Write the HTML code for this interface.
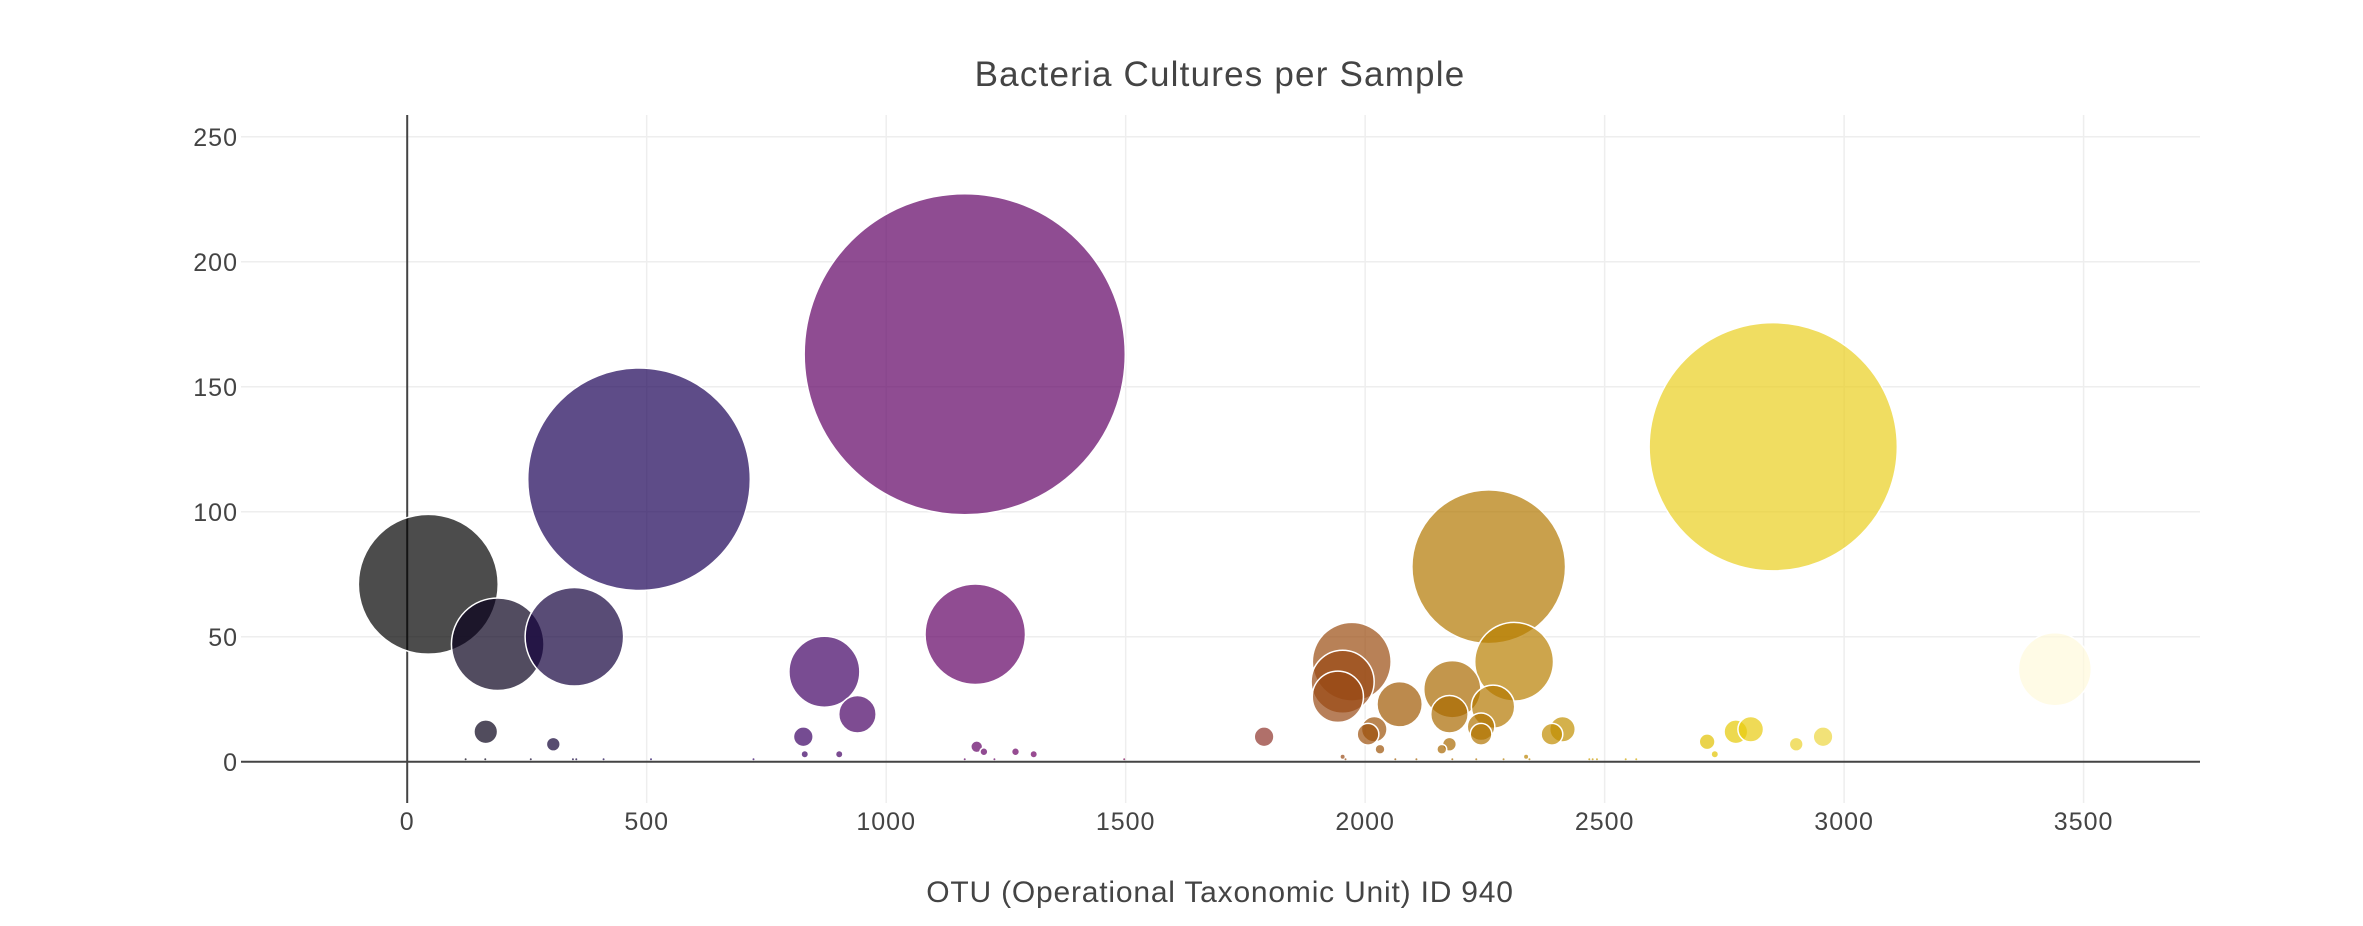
<!DOCTYPE html>
<html><head><meta charset="utf-8"><style>
html,body{margin:0;padding:0;background:#fff;width:2363px;height:926px;overflow:hidden}
svg text{font-family:"Liberation Sans",sans-serif;fill:#444}
</style></head><body>
<svg id="chart" width="2363" height="926" xmlns="http://www.w3.org/2000/svg">
<text x="1220" y="86" font-size="35" letter-spacing="1.2" text-anchor="middle">Bacteria Cultures per Sample</text>
<g id="grid"></g>
<g id="marks"></g>
<g id="axes"></g>
<text x="1220" y="902" font-size="30" letter-spacing="0.8" text-anchor="middle">OTU (Operational Taxonomic Unit) ID 940</text>
</svg>
<script>
const otuIds = [44,189,349,484,1164,1186,871,940,164,305,827,1189,1204,1270,1308,830,902,1789,1972,1953,1943,2072,2019,2006,2031,2258,2311,2182,2176,2267,2242,2242,2176,2160,2412,2390,2852,3440,2714,2730,2774,2805,2900,2956,122,163,258,346,353,410,509,723,1164,1226,1497,1953,1959,2063,2107,2182,2232,2289,2336,2343,2468,2475,2484,2544,2566];
const sampleValues = [71,47,50,113,163,51,36,19,12,7,10,6,4,4,3,3,3,10,40,32,26,23,13,11,5,78,40,29,19,22,14,11,7,5,13,11,126,37,8,3,12,13,7,10,1,1,1,1,1,1,1,1,1,1,1,2,1,1,1,1,1,1,2,1,1,1,1,1,1];
const xTicks = [0,500,1000,1500,2000,2500,3000,3500];
const yTicks = [0,50,100,150,200,250];

const PL=241, PR=2200, PT=115, PB=803;
const xMin=-347, xMax=3743, yMin=-16.5, yMax=258.7;
function xs(v){return PL+(v-xMin)/(xMax-xMin)*(PR-PL);}
function ys(v){return PB-(v-yMin)/(yMax-yMin)*(PB-PT);}
const NS="http://www.w3.org/2000/svg";
const scale=[[0,[0,0,0]],[0.15,[30,0,100]],[0.4,[120,0,100]],[0.6,[160,90,0]],[0.8,[230,200,0]],[1,[255,250,220]]];
const cmin=Math.min(...otuIds), cmax=Math.max(...otuIds);
function color(v){
  let t=(v-cmin)/(cmax-cmin);
  for(let i=1;i<scale.length;i++){
    if(t<=scale[i][0]){
      const a=scale[i-1],b=scale[i],f=(t-a[0])/(b[0]-a[0]);
      const c=a[1].map((x,k)=>Math.round(x+(b[1][k]-x)*f));
      return `rgb(${c.join(',')})`;
    }
  }
  return 'rgb(255,250,220)';
}
const grid=document.getElementById('grid'), axes=document.getElementById('axes'), marks=document.getElementById('marks');
xTicks.forEach(t=>{
  if(t!==0){
    const l=document.createElementNS(NS,'line');
    l.setAttribute('x1',xs(t));l.setAttribute('x2',xs(t));l.setAttribute('y1',PT);l.setAttribute('y2',PB);
    l.setAttribute('stroke','#eee');l.setAttribute('stroke-width','1.5');
    
    
    grid.appendChild(l);
  }
  const tx=document.createElementNS(NS,'text');
  tx.setAttribute('x',xs(t));tx.setAttribute('y',830);tx.setAttribute('font-size','25');tx.setAttribute('letter-spacing','1');tx.setAttribute('text-anchor','middle');
  tx.textContent=t;
  
  
  axes.appendChild(tx);
});
yTicks.forEach(t=>{
  if(t!==0){
    const l=document.createElementNS(NS,'line');
    l.setAttribute('x1',PL);l.setAttribute('x2',PR);l.setAttribute('y1',ys(t));l.setAttribute('y2',ys(t));
    l.setAttribute('stroke','#eee');l.setAttribute('stroke-width','1.5');
    
    
    grid.appendChild(l);
  }
  const tx=document.createElementNS(NS,'text');
  tx.setAttribute('x',238);tx.setAttribute('y',ys(t)+9);tx.setAttribute('font-size','25');tx.setAttribute('letter-spacing','1');tx.setAttribute('text-anchor','end');
  tx.textContent=t;
  
  
  axes.appendChild(tx);
});
const zx=document.createElementNS(NS,'line');
zx.setAttribute('x1',xs(0));zx.setAttribute('x2',xs(0));zx.setAttribute('y1',PT);zx.setAttribute('y2',PB);
zx.setAttribute('stroke','#444');zx.setAttribute('stroke-width','2');


grid.appendChild(zx);
const zy=document.createElementNS(NS,'line');
zy.setAttribute('x1',PL);zy.setAttribute('x2',PR);zy.setAttribute('y1',ys(0));zy.setAttribute('y2',ys(0));
zy.setAttribute('stroke','#444');zy.setAttribute('stroke-width','2');


grid.appendChild(zy);
otuIds.forEach((id,i)=>{
  const v=sampleValues[i];
  const c=document.createElementNS(NS,'circle');
  c.setAttribute('cx',xs(id));c.setAttribute('cy',ys(v));c.setAttribute('r',Math.max(0.9,v*0.985));
  c.setAttribute('fill',color(id));c.setAttribute('fill-opacity','0.7');
  c.setAttribute('stroke','#fff');c.setAttribute('stroke-width',v>3?'1.5':'0');
  
  
  marks.appendChild(c);
});
</script>
</body></html>
